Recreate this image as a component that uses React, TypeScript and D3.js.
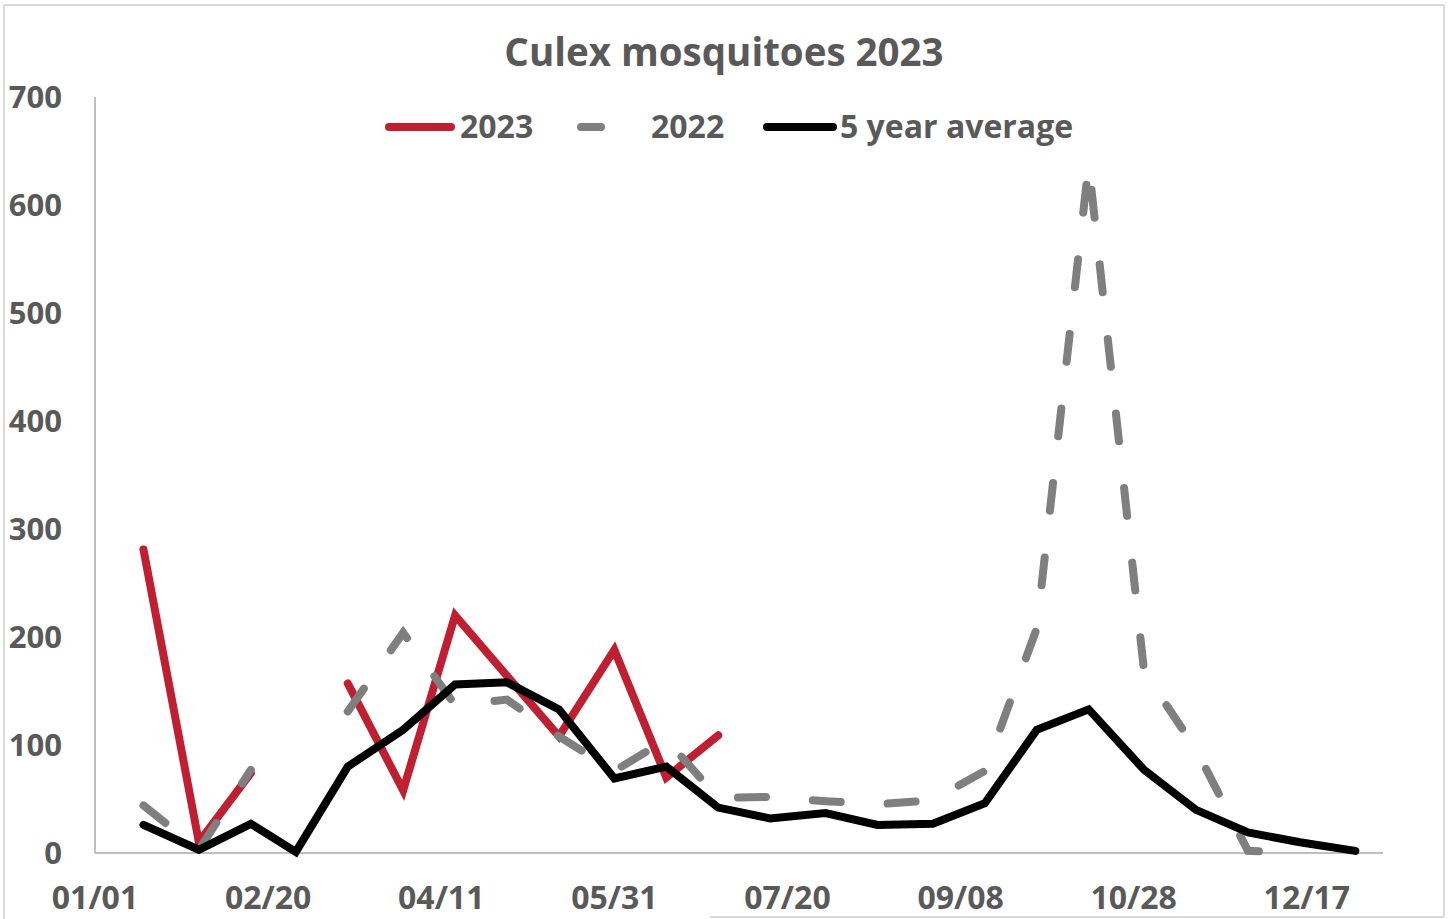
import React from 'react';
import * as d3 from 'd3';

// semi-monthly sample dates (2023)
const dates = [
  '01/15', '01/31', '02/15', '02/28', '03/15', '03/31', '04/15', '04/30',
  '05/15', '05/31', '06/15', '06/30', '07/15', '07/31', '08/15', '08/31',
  '09/15', '09/30', '10/15', '10/31', '11/15', '11/30', '12/15', '12/31'
];

const values2023: (number | null)[] = [
  281, 10, 74, null, 157, 58, 220, 164, 108, 188, 70, 109,
  null, null, null, null, null, null, null, null, null, null, null, null
];

const values2022: (number | null)[] = [
  44, 3, 77, null, 131, 204, 137, 142, 108, 76, 105, 51,
  52, 48, 45, 49, 76, 208, 638, 168, 96, 2, 0, null
];

const avg5yr: (number | null)[] = [
  26, 3, 27, 1, 80, 114, 156, 158, 133, 69, 80, 42,
  32, 37, 26, 27, 46, 114, 133, 77, 40, 19, 10, 2
];

const yTicks = [0, 100, 200, 300, 400, 500, 600, 700];
const xTickLabels = ['01/01', '02/20', '04/11', '05/31', '07/20', '09/08', '10/28', '12/17'];

const W = 1449;
const H = 919;
const margin = { left: 95, right: 66, top: 97, bottom: 66 };
const FONT = '"Open Sans", "DejaVu Sans", sans-serif';
const TEXT_COLOR = '#595959';

const parse = (s: string, year = 2023) => {
  const [m, d] = s.split('/').map(Number);
  return new Date(year, m - 1, d);
};

export default function App() {
  const x = d3.scaleTime()
    .domain([new Date(2023, 0, 1), new Date(2024, 0, 8)])
    .range([margin.left, W - margin.right]);

  const y = d3.scaleLinear()
    .domain([0, 700])
    .range([H - margin.bottom, margin.top]);

  const line = d3.line<{ d: Date; v: number | null }>()
    .defined(p => p.v != null)
    .x(p => x(p.d))
    .y(p => y(p.v as number));

  const toPts = (arr: (number | null)[]) => dates.map((s, i) => ({ d: parse(s), v: arr[i] }));

  const series = [
    { name: '2023', data: values2023, color: '#c01f32', dash: null },
    { name: '2022', data: values2022, color: '#7f7f7f', dash: '28,47' },
    { name: '5 year average', data: avg5yr, color: '#000000', dash: null }
  ];

  const legend = [
    { name: '2023', x1: 389, x2: 451, tx: 460, color: '#c01f32' },
    { name: '2022', x1: 581, x2: 601, tx: 651, color: '#7f7f7f' },
    { name: '5 year average', x1: 767, x2: 833, tx: 840, color: '#000000' }
  ];

  const y0 = H - margin.bottom;

  return (
    <svg width={W} height={H} style={{ position: 'absolute', left: 0, top: 0, background: '#fff' }}>
      {/* chart frame */}
      <line x1={4} y1={5} x2={1444} y2={5} stroke="#d9d9d9" strokeWidth={2} />
      <line x1={4} y1={5} x2={4} y2={919} stroke="#d9d9d9" strokeWidth={2} />
      <line x1={1444} y1={5} x2={1444} y2={917} stroke="#d9d9d9" strokeWidth={2} />
      <line x1={710} y1={917} x2={1444} y2={917} stroke="#d9d9d9" strokeWidth={2} />

      <text x={724} y={66} textAnchor="middle" fontFamily={FONT} fontWeight={700}
        fontSize={38.5} fill={TEXT_COLOR}>Culex mosquitoes 2023</text>

      {/* axes */}
      <line x1={margin.left} y1={margin.top} x2={margin.left} y2={y0} stroke="#bfbfbf" strokeWidth={2} />
      <line x1={margin.left} y1={y0} x2={W - margin.right} y2={y0} stroke="#bfbfbf" strokeWidth={2} />

      {yTicks.map(t => (
        <text key={t} x={62} y={y(t) + 11} textAnchor="end" fontFamily={FONT} fontWeight={700}
          fontSize={31} fill={TEXT_COLOR}>{t}</text>
      ))}

      {xTickLabels.map((lab, i) => {
        const d = d3.timeDay.offset(new Date(2023, 0, 1), i * 50);
        return (
          <text key={lab} x={x(d)} y={909} textAnchor="middle" fontFamily={FONT} fontWeight={700}
            fontSize={32} fill={TEXT_COLOR}>{lab}</text>
        );
      })}

      {/* series */}
      {series.map(s => (
        <path key={s.name} d={line(toPts(s.data)) || ''} fill="none" stroke={s.color}
          strokeWidth={8} strokeLinecap="round" strokeLinejoin="miter"
          strokeDasharray={s.dash || undefined} />
      ))}

      {/* legend */}
      {legend.map(l => (
        <g key={l.name}>
          <line x1={l.x1} x2={l.x2} y1={127} y2={127} stroke={l.color} strokeWidth={8} strokeLinecap="round" />
          <text x={l.tx} y={138} fontFamily={FONT} fontWeight={700} fontSize={32} fill={TEXT_COLOR}>{l.name}</text>
        </g>
      ))}
    </svg>
  );
}
